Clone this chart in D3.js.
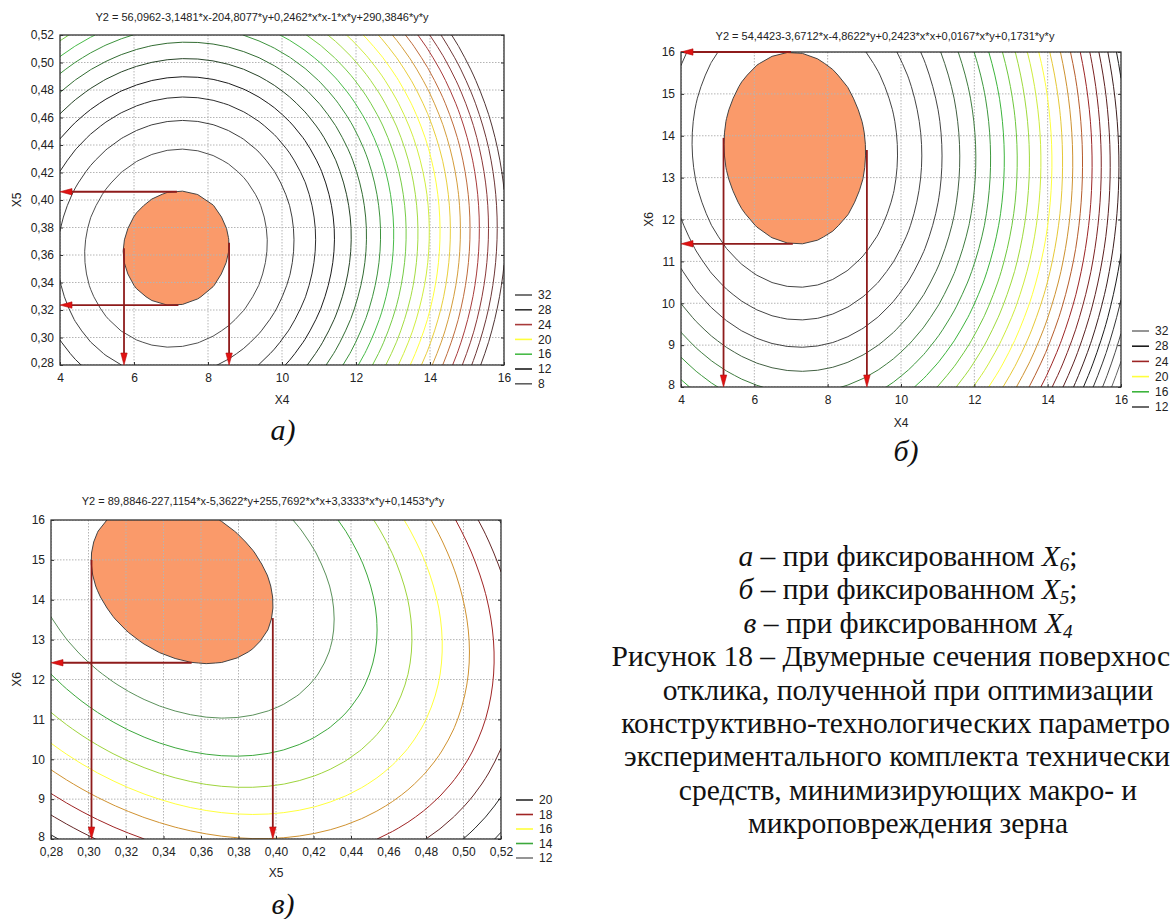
<!DOCTYPE html>
<html>
<head>
<meta charset="utf-8">
<script src="https://cdn.jsdelivr.net/npm/d3@7"></script>
<style>
  body { margin: 0; background: #fff; overflow: hidden; }
  svg { display: block; }
  .tick text, .lbl { font-family: "Liberation Sans", Arial, sans-serif; fill: #222; }
  .cap { font-family: "Liberation Serif", "Times New Roman", serif; fill: #111; }
</style>
</head>
<body>
<svg id="fig" width="1171" height="919"></svg>
<script>
// coefficients of Y2 = b0 + b1*x + b2*y + b11*x*x + b12*x*y + b22*y*y, as printed above each plot
const coefA = [56.0962, -3.1481, -204.8077, 0.2462, -1, 290.3846];
const coefB = [54.4423, -3.6712, -4.8622, 0.2423, 0.0167, 0.1731];
const coefC = [89.8846, -227.1154, -5.3622, 255.7692, 3.3333, 0.1453];

const titleA = "Y2 = 56,0962-3,1481*x-204,8077*y+0,2462*x*x-1*x*y+290,3846*y*y";
const titleB = "Y2 = 54,4423-3,6712*x-4,8622*y+0,2423*x*x+0,0167*x*y+0,1731*y*y";
const titleC = "Y2 = 89,8846-227,1154*x-5,3622*y+255,7692*x*x+3,3333*x*y+0,1453*y*y";

const xTicksA = [4, 6, 8, 10, 12, 14, 16];
const yTicksA = [0.28, 0.30, 0.32, 0.34, 0.36, 0.38, 0.40, 0.42, 0.44, 0.46, 0.48, 0.50, 0.52];
const xTicksB = [4, 6, 8, 10, 12, 14, 16];
const yTicksB = [8, 9, 10, 11, 12, 13, 14, 15, 16];
const xTicksC = [0.28, 0.30, 0.32, 0.34, 0.36, 0.38, 0.40, 0.42, 0.44, 0.46, 0.48, 0.50, 0.52];
const yTicksC = [8, 9, 10, 11, 12, 13, 14, 15, 16];

// isoline levels
const levelsA = [8, 9, 10, 11, 12, 13, 14, 15, 16, 17, 18, 19, 20, 21, 22, 23, 24, 25, 26, 27];
const levelsB = [9, 10, 11, 12, 13, 14, 15, 16, 17, 18, 19, 20, 21, 22, 23, 24, 25, 26, 27, 28, 29, 30, 31, 32];
const levelsC = [12, 13, 14, 15, 16, 17, 18, 19, 20, 21];

// shaded optimum zone: Y2 below this level
const zoneA = 8, zoneB = 9, zoneC = 12;

// legend entries and colours
const legendA = [32, 28, 24, 20, 16, 12, 8];
const legendColA = ["#555555", "#333333", "#a83a3a", "#ffff3c", "#48bb48", "#1c1c1c", "#606060"];
const legendB = [32, 28, 24, 20, 16, 12];
const legendColB = ["#7a7a7a", "#1c1c1c", "#9c2424", "#ffff3c", "#3cb43c", "#444444"];
const legendC = [20, 18, 16, 14, 12];
const legendColC = ["#2a2a2a", "#a02424", "#ffff3c", "#3ca83c", "#7a7a7a"];

// read-off arrows: from a point of the zone to the axis
const arrowsA = [[[7.16, 0.406], [4, 0.406]], [[7.2, 0.3236], [4, 0.3236]],
                 [[5.73, 0.365], [5.73, 0.28]], [[8.57, 0.369], [8.57, 0.28]]];
const arrowsB = [[[7.0, 16], [4, 16]], [[7.05, 11.42], [4, 11.42]],
                 [[5.16, 13.95], [5.16, 8]], [[9.07, 13.66], [9.07, 8]]];
const arrowsC = [[[0.355, 12.42], [0.28, 12.42]],
                 [[0.3016, 15.0], [0.3016, 8]], [[0.3983, 13.54], [0.3983, 8]]];

const fixedLines = [["а", "6", ";"], ["б", "5", ";"], ["в", "4", ""]];
// the caption as it appears: three lines run off the right edge of the page
const captionLines = [
  "Рисунок 18 – Двумерные сечения поверхнос",
  "отклика, полученной при оптимизации",
  "конструктивно-технологических параметро",
  "экспериментального комплекта технически",
  "средств, минимизирующих макро- и",
  "микроповреждения зерна"
];
const captionCut = [true, false, true, true, false, false];

const svg = d3.select("#fig");
const comma = v => d3.format(".2f")(v).replace(".", ",");

function quad(c) {
  return (x, y) => c[0] + c[1] * x + c[2] * y + c[3] * x * x + c[4] * x * y + c[5] * y * y;
}

function drawPanel(cfg, id) {
  const g = svg.append("g");
  const x = d3.scaleLinear().domain(cfg.xDomain).range([cfg.left, cfg.right]);
  const y = d3.scaleLinear().domain(cfg.yDomain).range([cfg.bottom, cfg.top]);
  const f = quad(cfg.coef);

  // sample the surface on a coarse grid, like the original software does
  const n = 30, m = 30;
  const dx = (cfg.xDomain[1] - cfg.xDomain[0]) / (n - 1);
  const dy = (cfg.yDomain[1] - cfg.yDomain[0]) / (m - 1);
  const values = new Array(n * m);
  for (let j = 0; j < m; j++)
    for (let i = 0; i < n; i++)
      values[j * n + i] = f(cfg.xDomain[0] + i * dx, cfg.yDomain[0] + j * dy);

  const proj = d3.geoTransform({
    point(px, py) {
      this.stream.point(x(cfg.xDomain[0] + (px - 0.5) * dx), y(cfg.yDomain[0] + (py - 0.5) * dy));
    }
  });
  const path = d3.geoPath(proj);

  g.append("clipPath").attr("id", id)
    .append("rect")
    .attr("x", cfg.left).attr("y", cfg.top)
    .attr("width", cfg.right - cfg.left).attr("height", cfg.bottom - cfg.top);

  const plot = g.append("g").attr("clip-path", `url(#${id})`);

  // zone fill
  const zone = d3.contours().size([n, m]).contour(values.map(v => -v), -cfg.zone);
  plot.append("path").attr("d", path(zone)).attr("fill", "#fa9a6a").attr("stroke", "none");

  // grid
  plot.append("g").selectAll("line").data(cfg.xTicks).join("line")
    .attr("x1", d => x(d)).attr("x2", d => x(d))
    .attr("y1", cfg.top).attr("y2", cfg.bottom)
    .attr("stroke", "#b4b4b4").attr("stroke-dasharray", "1.5,1.5");
  plot.append("g").selectAll("line").data(cfg.yTicks).join("line")
    .attr("y1", d => y(d)).attr("y2", d => y(d))
    .attr("x1", cfg.left).attr("x2", cfg.right)
    .attr("stroke", "#b4b4b4").attr("stroke-dasharray", "1.5,1.5");

  // isolines
  const stops = cfg.legend.slice().reverse();
  const cols = cfg.legendCol.slice().reverse();
  const color = d3.scaleLinear().domain(stops).range(cols).clamp(true);
  const iso = d3.contours().size([n, m]).thresholds(cfg.levels)(values);
  plot.append("g").selectAll("path").data(iso).join("path")
    .attr("d", path)
    .attr("fill", "none")
    .attr("stroke", d => d.value === cfg.zone ? "#444" : color(d.value))
    .attr("stroke-width", 1);

  // frame
  g.append("rect")
    .attr("x", cfg.left).attr("y", cfg.top)
    .attr("width", cfg.right - cfg.left).attr("height", cfg.bottom - cfg.top)
    .attr("fill", "none").attr("stroke", "#222").attr("stroke-width", 1.2);

  // arrows
  const ag = g.append("g");
  cfg.arrows.forEach(a => {
    const x1 = x(a[0][0]), y1 = y(a[0][1]), x2 = x(a[1][0]), y2 = y(a[1][1]);
    const ang = Math.atan2(y2 - y1, x2 - x1);
    const L = 12, W = 3.2;
    const bx = x2 - L * Math.cos(ang), by = y2 - L * Math.sin(ang);
    ag.append("line")
      .attr("x1", x1).attr("y1", y1).attr("x2", bx).attr("y2", by)
      .attr("stroke", "#8e1b1b").attr("stroke-width", 1.8);
    const px = -Math.sin(ang) * W, py = Math.cos(ang) * W;
    ag.append("path")
      .attr("d", `M${x2},${y2}L${bx + px},${by + py}L${bx - px},${by - py}Z`)
      .attr("fill", "#e21212").attr("stroke", "#b01010").attr("stroke-width", 0.6);
  });

  const xAxis = d3.axisBottom(x).tickValues(cfg.xTicks).tickSize(-3).tickPadding(8)
    .tickFormat(cfg.xFmt);
  const yAxis = d3.axisLeft(y).tickValues(cfg.yTicks).tickSize(-3).tickPadding(6)
    .tickFormat(cfg.yFmt);
  const gx = g.append("g").attr("transform", `translate(0,${cfg.bottom})`).call(xAxis);
  const gy = g.append("g").attr("transform", `translate(${cfg.left},0)`).call(yAxis);
  [gx, gy].forEach(a => {
    a.select(".domain").remove();
    a.selectAll(".tick line").attr("stroke", "#333");
    a.selectAll(".tick text").attr("font-size", 12);
  });
  gy.selectAll(".tick text").attr("dy", d => d === cfg.yDomain[0] ? "0.1em" : "0.32em");
  g.append("g").attr("transform", `translate(${cfg.right},0)`)
    .call(d3.axisRight(y).tickValues(cfg.yTicks).tickSize(-3).tickFormat(""))
    .call(a => a.select(".domain").remove())
    .selectAll(".tick line").attr("stroke", "#333");

  // titles
  g.append("text").attr("class", "lbl")
    .attr("x", cfg.titleX).attr("y", cfg.titleY)
    .attr("text-anchor", "middle").attr("font-size", 11)
    .text(cfg.title);
  g.append("text").attr("class", "lbl")
    .attr("x", (cfg.left + cfg.right) / 2).attr("y", cfg.xlabelY)
    .attr("text-anchor", "middle").attr("font-size", 12)
    .text(cfg.xLabel);
  g.append("text").attr("class", "lbl")
    .attr("transform", `translate(${cfg.ylabelX},${(cfg.top + cfg.bottom) / 2}) rotate(-90)`)
    .attr("text-anchor", "middle").attr("dy", "0.35em").attr("font-size", 12)
    .text(cfg.yLabel);

  // legend
  const lg = g.append("g");
  cfg.legend.forEach((v, k) => {
    const ly = cfg.legendY + k * cfg.legendStep;
    lg.append("line")
      .attr("x1", cfg.legendX).attr("x2", cfg.legendX + 17)
      .attr("y1", ly).attr("y2", ly)
      .attr("stroke", cfg.legendCol[k]).attr("stroke-width", 1.6);
    lg.append("text").attr("class", "lbl")
      .attr("x", cfg.legendX + 23).attr("y", ly).attr("dy", "0.35em")
      .attr("font-size", 12).text(v);
  });

  // panel letter
  g.append("text").attr("class", "cap")
    .attr("x", cfg.capX).attr("y", cfg.capY)
    .attr("text-anchor", "middle").attr("font-size", 30).attr("font-style", "italic")
    .text(cfg.cap);
}

drawPanel({
  coef: coefA, xDomain: [4, 16], yDomain: [0.28, 0.52],
  left: 60, right: 504, top: 35, bottom: 365,
  xTicks: xTicksA, yTicks: yTicksA, xFmt: d3.format("d"), yFmt: comma,
  levels: levelsA, zone: zoneA, legend: legendA, legendCol: legendColA, arrows: arrowsA,
  title: titleA, titleX: 262, titleY: 21, xLabel: "X4", xlabelY: 404, yLabel: "X5", ylabelX: 17,
  legendX: 515, legendY: 295, legendStep: 14.8, cap: "а)", capX: 283, capY: 440
}, "clipA");

drawPanel({
  coef: coefB, xDomain: [4, 16], yDomain: [8, 16],
  left: 681, right: 1121, top: 52, bottom: 387,
  xTicks: xTicksB, yTicks: yTicksB, xFmt: d3.format("d"), yFmt: d3.format("d"),
  levels: levelsB, zone: zoneB, legend: legendB, legendCol: legendColB, arrows: arrowsB,
  title: titleB, titleX: 885, titleY: 40, xLabel: "X4", xlabelY: 427, yLabel: "X6", ylabelX: 649,
  legendX: 1132, legendY: 331, legendStep: 15.2, cap: "б)", capX: 906, capY: 461
}, "clipB");

drawPanel({
  coef: coefC, xDomain: [0.28, 0.52], yDomain: [8, 16],
  left: 51, right: 501, top: 520, bottom: 839,
  xTicks: xTicksC, yTicks: yTicksC, xFmt: comma, yFmt: d3.format("d"),
  levels: levelsC, zone: zoneC, legend: legendC, legendCol: legendColC, arrows: arrowsC,
  title: titleC, titleX: 263, titleY: 505, xLabel: "X5", xlabelY: 877, yLabel: "X6", ylabelX: 17,
  legendX: 516, legendY: 800, legendStep: 14.5, cap: "в)", capX: 283, capY: 914
}, "clipC");

// caption on the right
const cx = 908, fs = 29.5, lead = 33.4, firstY = 566;
fixedLines.forEach((d, k) => {
  const t = svg.append("text").attr("class", "cap")
    .attr("x", cx).attr("y", firstY + k * lead).attr("text-anchor", "middle").attr("font-size", fs);
  t.append("tspan").attr("font-style", "italic").text(d[0]);
  t.append("tspan").text(" – при фиксированном ");
  t.append("tspan").attr("font-style", "italic").text("X");
  t.append("tspan").attr("font-style", "italic").attr("font-size", 19).attr("dy", 5).text(d[1]);
  t.append("tspan").attr("dy", -5).text(d[2]);
});
captionLines.forEach((s, k) => {
  svg.append("text").attr("class", "cap")
    .attr("x", captionCut[k] ? 1170 : cx).attr("y", firstY + (k + 3) * lead)
    .attr("text-anchor", captionCut[k] ? "end" : "middle").attr("font-size", fs)
    .text(s);
});
</script>
</body>
</html>
